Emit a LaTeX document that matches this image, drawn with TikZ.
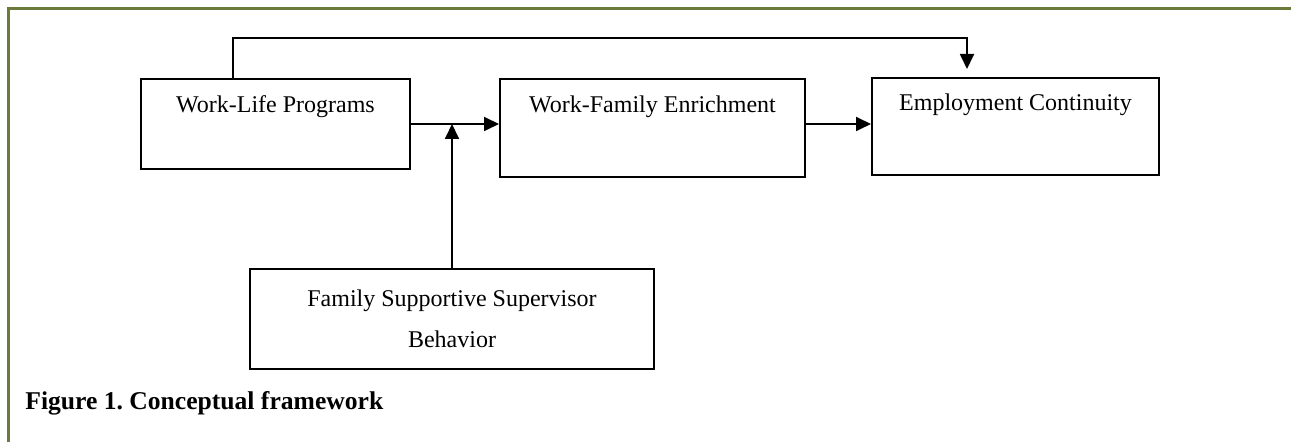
\documentclass[tikz,border=0pt]{standalone}
\usepackage{fontspec}
\setmainfont{Liberation Serif}
\usetikzlibrary{arrows.meta}
\frenchspacing
\definecolor{framegreen}{RGB}{107,123,58}
\tikzset{
  box/.style={draw=black, line width=1pt, rectangle, inner xsep=0pt, inner ysep=0pt, font=\fontsize{12pt}{14pt}\selectfont},
  conn/.style={draw=black, line width=0.9pt},
  arr/.style={conn, -{Triangle[length=7.5pt,width=7pt]}},
  framebar/.style={draw=framegreen, line width=1.5pt},
}
\begin{document}
\begin{tikzpicture}[x=0.5pt,y=-0.5pt]
\useasboundingbox (0,0) rectangle (1291,442);
% frame
\draw[framebar] (8.5,442) -- (8.5,8.5) -- (1291,8.5);
% boxes
\node[box, anchor=north west, minimum width=134.5pt, text height=17pt, text depth=28pt] (wl) at (140,78) {Work-Life Programs};
\node[box, anchor=north west, minimum width=152.5pt, text height=17pt, text depth=32pt] (wfe) at (499,78) {Work-Family Enrichment};
\node[box, anchor=north west, minimum width=143.5pt, text height=16.5pt, text depth=32pt] (ec) at (871,77) {Employment Continuity};
\node[box, anchor=north west, minimum width=202pt, minimum height=50pt, align=center, font=\fontsize{12pt}{20.5pt}\selectfont] (fssb) at (249,268) {Family Supportive Supervisor\\Behavior};
% connectors
\coordinate (ypath) at (0,124);
\draw[arr] (wl.east |- ypath) -- (wfe.west |- ypath);
\draw[arr] (wfe.east |- ypath) -- (ec.west |- ypath);
\draw[arr] (fssb.north) -- (fssb.north |- ypath);
\coordinate (tl) at (233,38);
\coordinate (tr) at (967,69);
\draw[arr, line join=miter] (wl.north -| tl) -- (tl) -| (tr);
% caption
\node[anchor=base west, inner sep=0pt, font=\fontsize{12.8pt}{15pt}\selectfont\bfseries] (cap) at (25,410) {Figure 1. Conceptual framework};
\end{tikzpicture}
\end{document}
